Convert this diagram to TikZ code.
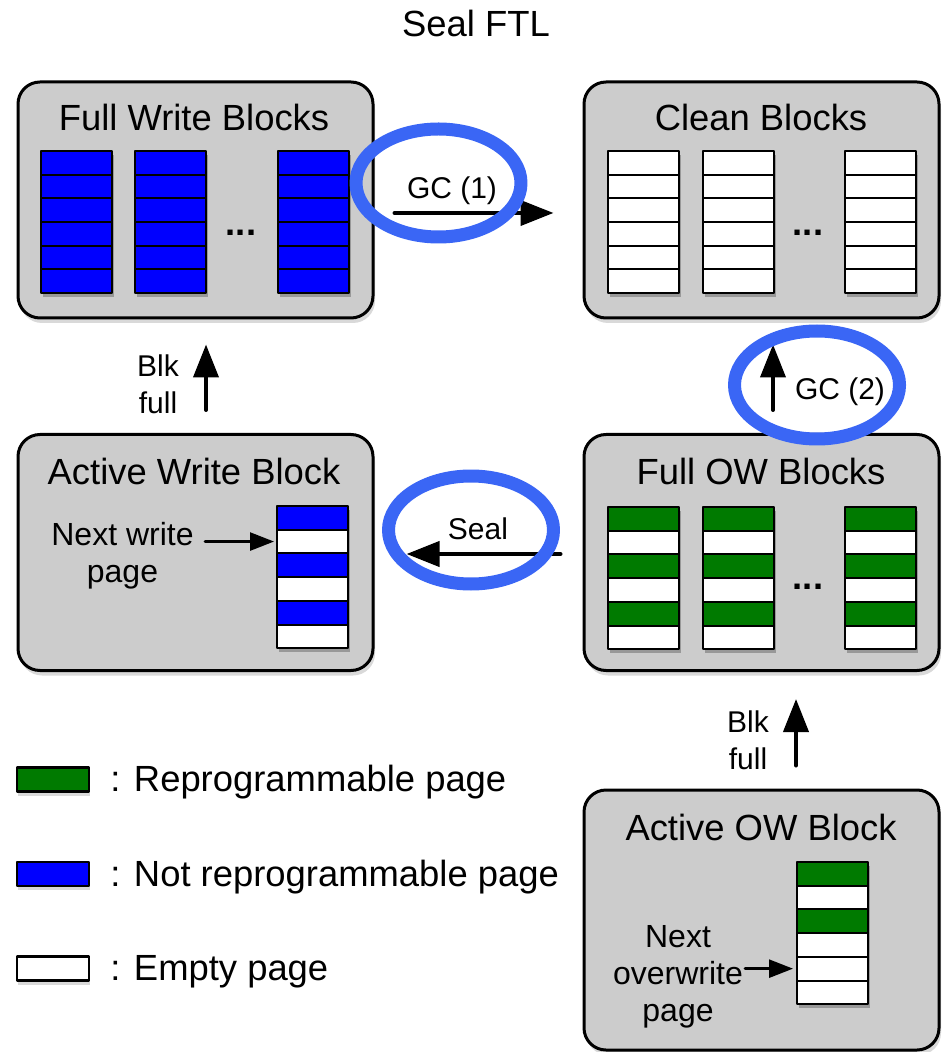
\documentclass[tikz,border=0pt]{standalone}
\usepackage{fontspec}
\setmainfont{Liberation Sans}
\usepackage{tikz}
\usetikzlibrary{arrows.meta,shapes.geometric,shadows,calc}

% one column of pages: name, left x, top y, fill colours from top to bottom
\newcommand{\pagestack}[4]{%
  \path[stackshadow] (#2,#3) rectangle ++(71,142.2);
  \foreach \c [count=\i] in {#4} {%
    \node[pg, fill=\c, anchor=north west] (#1-\i) at (#2,{#3+(\i-1)*23.7}) {};
  }%
}

\begin{document}
\begin{tikzpicture}[x=0.5pt, y=-0.5pt, line cap=round, line join=round,
  blk/.style={draw, line width=1.5pt, rounded corners=11pt, fill=boxgray,
    minimum width=177.5pt, minimum height=118pt, inner sep=0pt,
    drop shadow={shadow xshift=1pt, shadow yshift=-2.5pt, opacity=0.3}},
  pg/.style={draw, line width=1pt, minimum width=35.5pt, minimum height=11.85pt,
    inner sep=0pt, outer sep=0pt},
  stackshadow/.style={fill=black, opacity=0.25, xshift=1pt, yshift=-2pt},
  key/.style={pg, line width=1.4pt, minimum width=36pt, minimum height=12pt,
    drop shadow={shadow xshift=0.5pt, shadow yshift=-2pt, opacity=0.3}},
  heading/.style={font=\fontsize{18.2}{22}\selectfont},
  note/.style={font=\fontsize{15}{18.5}\selectfont, align=center},
  hint/.style={font=\fontsize{16}{18.5}\selectfont, align=center},
  flow/.style={line width=2pt, -{Triangle[length=16.5pt, width=12.5pt]}},
  pointer/.style={line width=1.3pt, -{Triangle[length=12pt, width=9pt]}},
  ring/.style={draw=ringblue, line width=6.5pt, ellipse, inner sep=0pt,
    minimum width=82.5pt, minimum height=54pt}]
  \colorlet{boxgray}{black!20}
  \colorlet{pgblue}{blue}
  \colorlet{pggreen}{green!48!black}
  \definecolor{ringblue}{RGB}{58,102,245}
  \useasboundingbox (0,0) rectangle (949,1052);

  \node[heading, anchor=base] (title) at (476,37) {Seal FTL};

  % the five block pools
  \node[blk] (fwb) at (195.5,200) {};
  \node[blk] (cb) at (761.5,200) {};
  \node[blk] (awb) at (195.5,552.5) {};
  \node[blk] (fow) at (761.5,552.5) {};
  \node[blk, minimum height=130pt] (aow) at (761.5,920) {};

  \node[heading, anchor=base] (fwbtitle) at (194,131) {Full Write Blocks};
  \node[heading, anchor=base] (cbtitle) at (761,131) {Clean Blocks};
  \node[heading, anchor=base] (awbtitle) at (194,484) {Active Write Block};
  \node[heading, anchor=base] (fowtitle) at (761,484) {Full OW Blocks};
  \node[heading, anchor=base] (aowtitle) at (761,840) {Active OW Block};

  % pages
  \foreach \x [count=\k] in {41,135,278} {%
    \pagestack{fwb\k}{\x}{151}{pgblue,pgblue,pgblue,pgblue,pgblue,pgblue}
  }
  \foreach \x [count=\k] in {608,703,845} {%
    \pagestack{cb\k}{\x}{151}{white,white,white,white,white,white}
    \pagestack{fow\k}{\x}{507}{pggreen,white,pggreen,white,pggreen,white}
  }
  \pagestack{awbs}{277}{506}{pgblue,white,pgblue,white,pgblue,white}
  \pagestack{aows}{797}{862}{pggreen,white,pggreen,white,white,white}

  \node[heading, font=\fontsize{18.2}{22}\selectfont\bfseries] (fwbdots) at (241,233) {...};
  \node[heading, font=\fontsize{18.2}{22}\selectfont\bfseries] (cbdots) at (808,233) {...};
  \node[heading, font=\fontsize{18.2}{22}\selectfont\bfseries] (fowdots) at (808,587) {...};

  % transitions
  \draw[flow] ($(fwb.east)+(20,13)$) -- ($(cb.west)+(-29,13)$);
  \draw[flow] ($(awb.north)+(10.5,-23)$) -- ($(fwb.south)+(10.5,25)$);
  \draw[flow] ($(fow.north)+(11.5,-23)$) -- ($(cb.south)+(11.5,25)$);
  \draw[flow] ($(fow.west)+(-22,1.5)$) -- ($(awb.east)+(32,1.5)$);
  \draw[flow] ($(aow.north)+(34.5,-23)$) -- ($(fow.south)+(34.5,27)$);

  \node[note] (gc1lbl) at (452,191) {GC (1)};
  \node[note] (gc2lbl) at (840,392) {GC (2)};
  \node[note] (seallbl) at (478,529) {Seal};
  \node[note] (blkfull1) at (158,384) {Blk\\full};
  \node[note] (blkfull2) at (748,740) {Blk\\full};

  \node[ring] (gc1ring) at (438.5,183) {};
  \node[ring] (gc2ring) at (817,385) {};
  \node[ring] (sealring) at (471,530) {};

  % write pointers
  \node[hint] (nextw) at (122.5,556) {Next write\\page};
  \draw[pointer] ([xshift=-36pt]awbs-2.west) -- ([xshift=-1.5pt]awbs-2.west);
  \node[hint] (nexto) at (678,977) {Next\\overwrite\\page};
  \draw[pointer] ([xshift=-26pt]aows-5.west) -- ([xshift=-2pt]aows-5.west);

  % legend
  \node[key, fill=pggreen] (keyrep) at (53,779.5) {};
  \node[key, fill=pgblue] (keynot) at (53,874) {};
  \node[key, fill=white] (keyempty) at (53,968.5) {};
  \node[heading, inner sep=0pt, anchor=base west] (txtrep) at ($(keyrep.east)+(21,12)$) {: Reprogrammable page};
  \node[heading, inner sep=0pt, anchor=base west] (txtnot) at ($(keynot.east)+(21,12)$) {: Not reprogrammable page};
  \node[heading, inner sep=0pt, anchor=base west] (txtempty) at ($(keyempty.east)+(21,12)$) {: Empty page};
\end{tikzpicture}
\end{document}
